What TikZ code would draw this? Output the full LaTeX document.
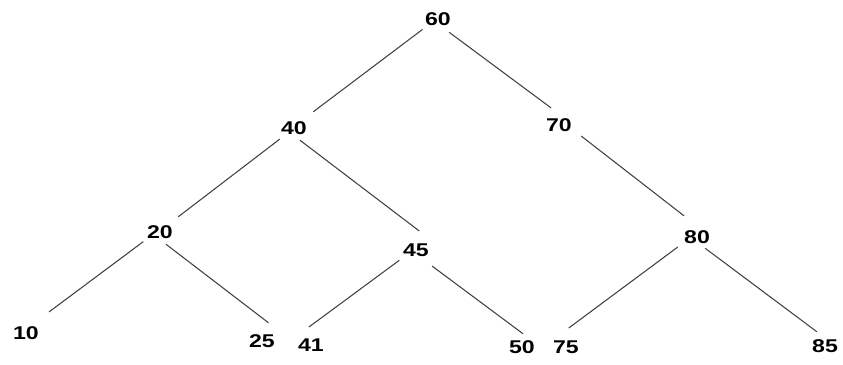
\documentclass[tikz,border=0pt]{standalone}
\usepackage{fontspec}
\setmainfont{Liberation Sans}
\newcommand{\keylabel}[1]{\scalebox{1.25}[1]{#1}}
\tikzset{
  key/.style={inner sep=2pt, font=\fontsize{10.5}{12}\selectfont\bfseries},
  branch/.style={draw=black!75, line width=0.6pt}
}
\begin{document}
\begin{tikzpicture}[x=0.02cm, y=-0.02cm]

  \useasboundingbox (0,0) rectangle (843,365);

  % -- keys, level by level --
  \node[key] (k60) at (438,19) {\keylabel{60}};

  \node[key] (k40) at (294,128) {\keylabel{40}};
  \node[key] (k70) at (559,125) {\keylabel{70}};

  \node[key] (k20) at (160,232) {\keylabel{20}};
  \node[key] (k45) at (416,250) {\keylabel{45}};
  \node[key] (k80) at (697,237) {\keylabel{80}};

  \node[key] (k10) at (26,333) {\keylabel{10}};
  \node[key] (k25) at (262,341) {\keylabel{25}};
  \node[key] (k41) at (311,345) {\keylabel{41}};
  \node[key] (k50) at (522,347) {\keylabel{50}};
  \node[key] (k75) at (566,347) {\keylabel{75}};
  \node[key] (k85) at (825,346) {\keylabel{85}};

  % -- branches --
  \draw[branch, shorten >=5.5pt] (k60.-146) -- (k40.42);
  \draw[branch, shorten <=2.7pt, shorten >=6.4pt] (k60.-55) -- (k70.84);
  \draw[branch, shorten <=0.7pt, shorten >=4.5pt] (k40.-142) -- (k20.41);
  \draw[branch, shorten <=1.7pt, shorten >=8.2pt] (k40.-71) -- (k45.35);
  \draw[branch, shorten <=4pt, shorten >=10pt] (k70.-22) -- (k80.85);
  \draw[branch, shorten >=10.2pt] (k20.-150) -- (k10.50);
  \draw[branch, shorten <=1.7pt, shorten >=7.3pt] (k20.-71) -- (k25.north east);
  \draw[branch, shorten >=7.4pt] (k45.south west) -- (k41.141);
  \draw[branch, shorten <=5.5pt, shorten >=2.7pt] (k45.-51) -- (k50.65);
  \draw[branch, shorten <=1.8pt, shorten >=8.3pt] (k80.-154) -- (k75.131);
  \draw[branch, shorten <=0.8pt, shorten >=3.6pt] (k80.-56) -- (k85.106);

\end{tikzpicture}
\end{document}
